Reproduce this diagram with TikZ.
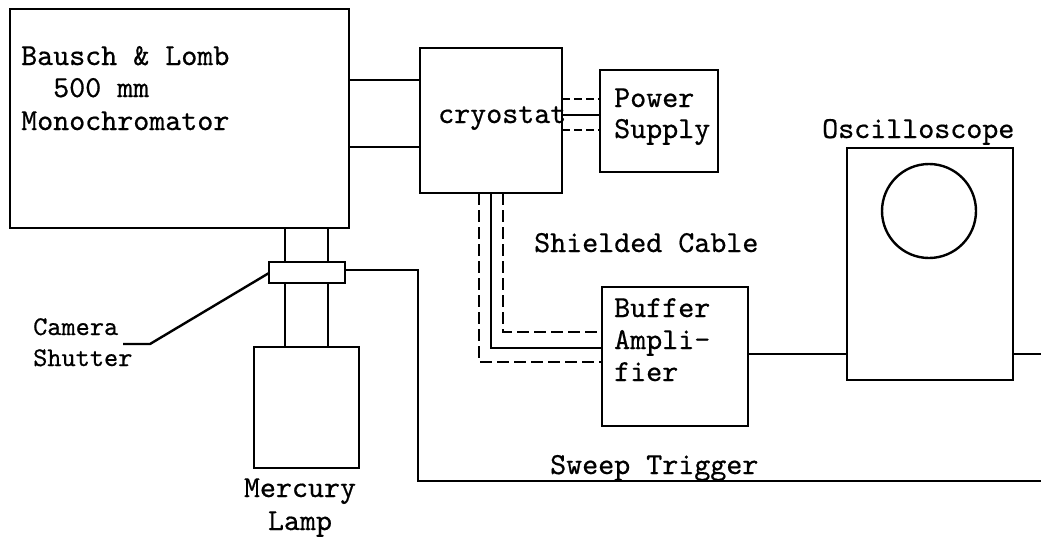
\documentclass[tikz,border=0pt]{standalone}
\usepackage{fontspec}
\newfontfamily\twfont{lmmono10-regular.otf}[FakeBold=0.6]
\begin{document}
\begin{tikzpicture}[x=1pt,y=-1pt,
  line width=2.4pt,
  box/.style={draw, rectangle, inner sep=0pt, outer sep=0pt},
  lbl/.style={inner sep=0pt, anchor=base west, font=\fontsize{30.5}{33}\selectfont\twfont},
  smalllbl/.style={lbl, font=\fontsize{27}{33}\selectfont\twfont},
  cabledash/.style={dash pattern=on 12pt off 5pt},
  psudash/.style={dash pattern=on 8pt off 4pt}]
\useasboundingbox (0,0) rectangle (1041,538);
% boxes
\node[box, minimum width=339pt, minimum height=219pt] (mono) at (179.5,118.5) {};
\node[box, minimum width=142pt, minimum height=145pt] (cryo) at (491,120.5) {};
\node[box, minimum width=118pt, minimum height=102pt] (psu) at (659,121) {};
\node[box, minimum width=146pt, minimum height=139pt] (buf) at (675,356.5) {};
\node[box, minimum width=166pt, minimum height=232pt] (osc) at (930,264) {};
\node[draw, circle, minimum size=94pt, inner sep=0pt, outer sep=0pt] (screen) at (929,211) {};
\node[box, minimum width=76pt, minimum height=21pt] (shutter) at (307,272.5) {};
\node[box, minimum width=105pt, minimum height=121pt] (lamp) at (306.5,407.5) {};
% free ends
\coordinate (rightend) at (1041,354);
\coordinate (sweepcorner) at (418,481);
\coordinate (sweepend) at (1041,481);
\coordinate (camknee) at (150,344);
\coordinate (camtail) at (123,344);
% texts
\node[lbl] (t1) at (20,65) {Bausch \& Lomb};
\node[lbl] (t2) at (52,97) {500 mm};
\node[lbl] (t3) at (20,130) {Monochromator};
\node[lbl] (t4) at (437,123) {cryostat};
\node[lbl] (t5) at (613,107) {Power};
\node[lbl] (t6) at (613,138) {Supply};
\node[lbl] (t7) at (533,252) {Shielded Cable};
\node[lbl] (t8) at (613,317) {Buffer};
\node[lbl] (t9) at (613,349) {Ampli-};
\node[lbl] (t10) at (613,381) {fier};
\node[lbl] (t11) at (821,138) {Oscilloscope};
\node[smalllbl] (t12) at (32,335) {Camera};
\node[smalllbl] (t13) at (32,366) {Shutter};
\node[lbl, anchor=base] (t14) at (300,497) {Mercury};
\node[lbl, anchor=base] (t15) at (300,530) {Lamp};
\node[lbl] (t16) at (549,474) {Sweep Trigger};
% monochromator to cryostat
\draw (mono.east |- 0,80) -- (cryo.west |- 0,80);
\draw (mono.east |- 0,147) -- (cryo.west |- 0,147);
% cryostat to power supply
\draw[psudash] (cryo.east |- 0,99) -- (psu.west |- 0,99);
\draw (cryo.east |- 0,115) -- (psu.west |- 0,115);
\draw[psudash] (cryo.east |- 0,130) -- (psu.west |- 0,130);
% shielded cable
\draw[cabledash] (cryo.south -| 479,0) |- (buf.west |- 0,362);
\draw (cryo.south -| 491,0) |- (buf.west |- 0,348);
\draw[cabledash] (cryo.south -| 503,0) |- (buf.west |- 0,332);
% buffer to oscilloscope
\draw (buf.east |- 0,354) -- (osc.west |- 0,354);
\draw (osc.east |- 0,354) -- (rightend);
% optical path
\draw (mono.south -| 285,0) -- (shutter.north -| 285,0);
\draw (mono.south -| 328,0) -- (shutter.north -| 328,0);
\draw (shutter.south -| 285,0) -- (lamp.north -| 285,0);
\draw (shutter.south -| 328,0) -- (lamp.north -| 328,0);
% sweep trigger
\draw (shutter.east |- 0,270) -| (sweepcorner) -- (sweepend);
% camera shutter leader
\draw (shutter.west |- 0,273) -- (camknee) -- (camtail);
\end{tikzpicture}
\end{document}
